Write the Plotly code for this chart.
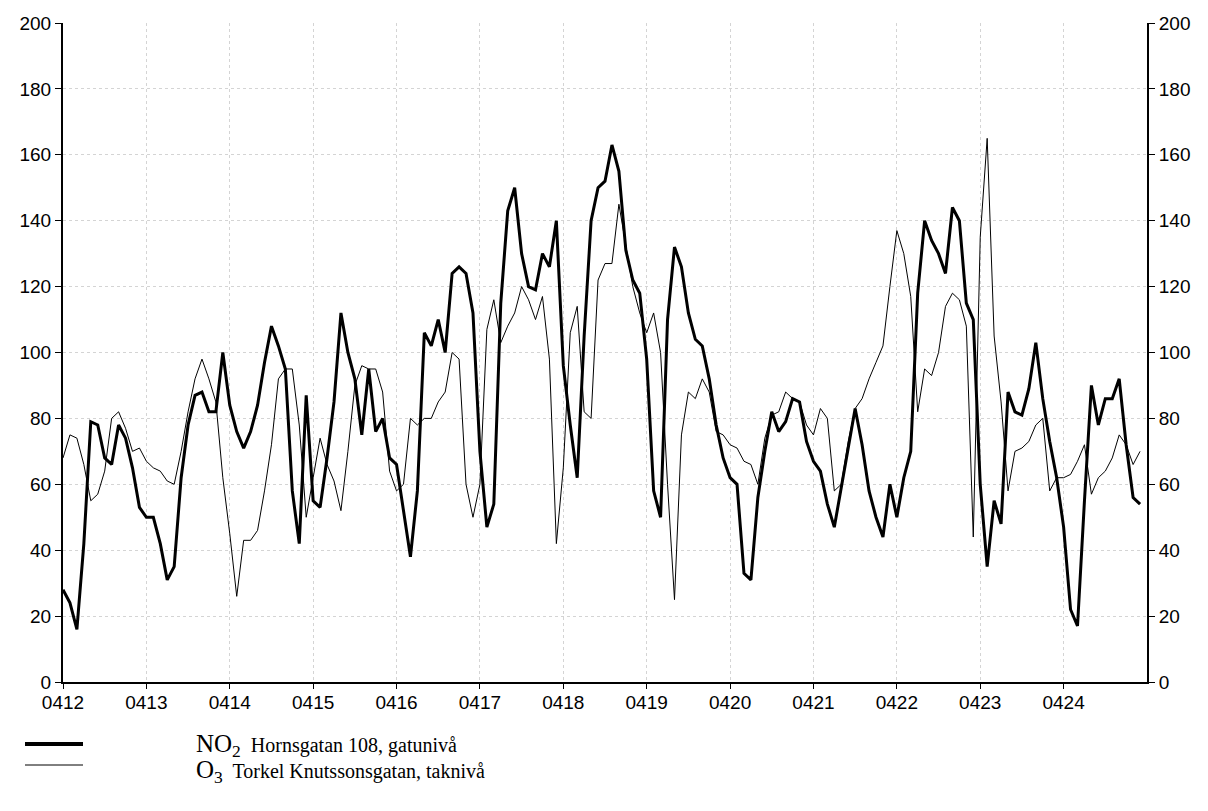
import plotly.graph_objects as go

# ---- data (2-hourly readings, 0412 00h .. 0424 22h) ----
day_labels = ["0412", "0413", "0414", "0415", "0416", "0417", "0418",
              "0419", "0420", "0421", "0422", "0423", "0424"]

no2 = [
    28, 24, 16, 42, 79, 78, 68, 66, 78, 74, 65, 53,          # 0412
    50, 50, 42, 31, 35, 62, 78, 87, 88, 82, 82, 100,         # 0413
    84, 76, 71, 76, 84, 97, 108, 102, 95, 58, 42, 87,        # 0414
    55, 53, 68, 85, 112, 100, 92, 75, 95, 76, 80, 68,        # 0415
    66, 52, 38, 58, 106, 102, 110, 100, 124, 126, 124, 112,  # 0416
    70, 47, 54, 115, 143, 150, 130, 120, 119, 130, 126, 140, # 0417
    96, 78, 62, 105, 140, 150, 152, 163, 155, 131, 122, 118, # 0418
    98, 58, 50, 110, 132, 126, 112, 104, 102, 92, 78, 68,    # 0419
    62, 60, 33, 31, 56, 70, 82, 76, 79, 86, 85, 73,          # 0420
    67, 64, 54, 47, 59, 72, 83, 72, 58, 50, 44, 60,          # 0421
    50, 62, 70, 118, 140, 134, 130, 124, 144, 140, 115, 110, # 0422
    60, 35, 55, 48, 88, 82, 81, 89, 103, 86, 73, 62,         # 0423
    47, 22, 17, 55, 90, 78, 86, 86, 92, 72, 56, 54,          # 0424
]

o3 = [
    68, 75, 74, 66, 55, 57, 64, 80, 82, 77, 70, 71,          # 0412
    67, 65, 64, 61, 60, 70, 82, 92, 98, 92, 85, 62,          # 0413
    45, 26, 43, 43, 46, 58, 72, 92, 95, 95, 78, 50,          # 0414
    62, 74, 66, 61, 52, 70, 90, 96, 95, 95, 88, 64,          # 0415
    58, 60, 80, 78, 80, 80, 85, 88, 100, 98, 60, 50,         # 0416
    60, 107, 116, 103, 108, 112, 120, 116, 110, 117, 98, 42, # 0417
    65, 106, 114, 82, 80, 122, 127, 127, 145, 133, 120, 112, # 0418
    106, 112, 100, 60, 25, 75, 88, 86, 92, 88, 76, 75,       # 0419
    72, 71, 67, 66, 60, 74, 81, 82, 88, 86, 85, 78,          # 0420
    75, 83, 80, 58, 60, 73, 83, 86, 92, 97, 102, 120,        # 0421
    137, 130, 117, 82, 95, 93, 100, 114, 118, 116, 108, 44,  # 0422
    135, 165, 105, 85, 58, 70, 71, 73, 78, 80, 58, 62,       # 0423
    62, 63, 67, 72, 57, 62, 64, 68, 75, 72, 66, 70,          # 0424
]

hours = list(range(0, 2 * len(no2), 2))
day_ticks = [24 * i for i in range(len(day_labels))]

legend_no2 = '<span style="font-size:25px">NO<sub>2</sub></span>  Hornsgatan 108, gatunivå'
legend_o3 = '<span style="font-size:25px">O<sub>3</sub></span>  Torkel Knutssonsgatan, taknivå'

# ---- figure ----
W, H = 1208, 811
L, R, T, B = 63, 61, 23, 129
pw, ph = W - L - R, H - T - B

def px(x):
    return (x - L) / pw

def py(y):
    return (H - B - y) / ph

fig = go.Figure()
fig.add_trace(go.Scatter(x=hours, y=o3, mode="lines", yaxis="y2",
                         line=dict(color="black", width=1), name="O3"))
fig.add_trace(go.Scatter(x=hours, y=no2, mode="lines",
                         line=dict(color="black", width=3), name="NO2"))

tickfont = dict(family="Liberation Sans", size=19, color="black")
axis_common = dict(showline=True, linecolor="black", linewidth=2,
                   ticks="outside", tickcolor="black", tickwidth=1,
                   tickfont=tickfont, zeroline=False)
grid = dict(showgrid=True, gridcolor="#d4d4d4", griddash="dot", gridwidth=1)

fig.update_layout(
    width=W, height=H,
    margin=dict(l=L, r=R, t=T, b=B, pad=0),
    plot_bgcolor="white", paper_bgcolor="white",
    showlegend=False,
    hovermode=False,
    xaxis=dict(range=[0, 24 * len(day_labels)], tickvals=day_ticks, ticktext=day_labels,
               ticklen=5, ticklabelstandoff=-3, **grid, **axis_common),
    yaxis=dict(range=[0, 200], dtick=20, ticklen=6, **grid, **axis_common),
    yaxis2=dict(range=[0, 200], dtick=20, overlaying="y", side="right",
                ticklen=6, showgrid=False, **axis_common),
    shapes=[
        dict(type="line", xref="paper", yref="paper", x0=px(25), x1=px(83),
             y0=py(744), y1=py(744), line=dict(color="black", width=4)),
        dict(type="line", xref="paper", yref="paper", x0=px(25), x1=px(83),
             y0=py(765), y1=py(765), line=dict(color="black", width=1)),
    ],
    annotations=[
        dict(text=legend_no2, xref="paper", yref="paper", x=px(194), y=py(745),
             xanchor="left", yanchor="middle", showarrow=False,
             font=dict(family="Liberation Serif", size=20, color="black")),
        dict(text=legend_o3, xref="paper", yref="paper", x=px(194), y=py(771),
             xanchor="left", yanchor="middle", showarrow=False,
             font=dict(family="Liberation Serif", size=20, color="black")),
    ],
)

fig.write_html("out.html", config={"displayModeBar": False, "staticPlot": True},
               post_script="document.body.style.margin='0px';")
